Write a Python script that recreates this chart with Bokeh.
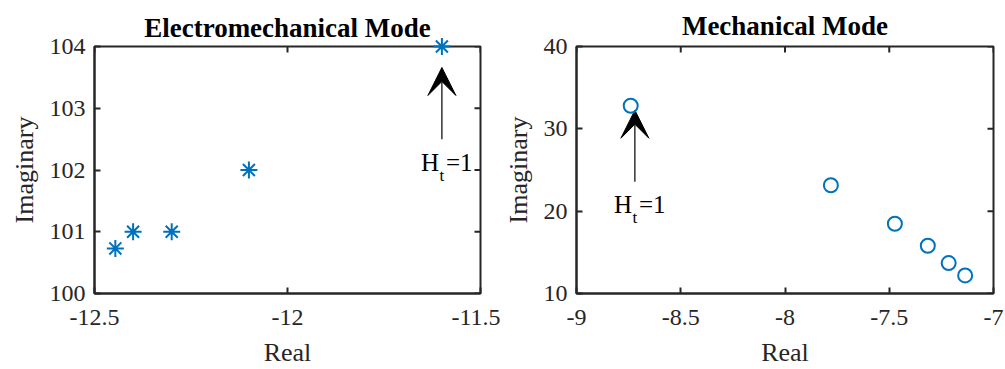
import math
from bokeh.plotting import figure
from bokeh.layouts import row
from bokeh.models import FixedTicker, Arrow, VeeHead, Label, Range1d
from bokeh.embed import file_html
from bokeh.resources import INLINE

# Electromechanical mode eigenvalues
em_real = [-12.446, -12.40, -12.30, -12.10, -11.60]
em_imag = [100.73, 101.0, 101.0, 102.0, 104.0]

# Mechanical mode eigenvalues
mech_real = [-8.74, -7.78, -7.473, -7.315, -7.215, -7.136]
mech_imag = [32.8, 23.15, 18.47, 15.8, 13.7, 12.2]

em_xticks = [-12.5, -12, -11.5]
em_yticks = [100, 101, 102, 103, 104]
mech_xticks = [-9, -8.5, -8, -7.5, -7]
mech_yticks = [10, 20, 30, 40]

# annotation arrows: (x, y_tail, y_head)
em_arrow = (-11.6, 102.5, 103.66)
mech_arrow = (-8.72, 23.58, 32.26)

BLUE = "#0072BD"
AX = "#262626"
FONT = "Liberation Serif"


def style_axis(ax, ticks):
    ax.ticker = FixedTicker(ticks=ticks)
    ax.axis_line_color = AX
    ax.axis_line_width = 2
    ax.major_tick_line_color = AX
    ax.major_tick_line_width = 2
    ax.major_tick_in = 6
    ax.major_tick_out = 0
    ax.minor_tick_line_color = None
    ax.major_label_text_font = FONT
    ax.major_label_text_color = AX
    ax.major_label_text_font_size = "24px"
    ax.major_label_overrides = {t: "%g" % t for t in ticks}
    ax.axis_label_text_font = FONT
    ax.axis_label_text_font_size = "26px"
    ax.axis_label_text_font_style = "normal"
    ax.axis_label_text_color = AX


def make_fig(title, width, xr, yr, xticks, yticks, borders, title_gap):
    left, right, top, bottom = borders
    p = figure(width=width, height=369, output_backend="svg", toolbar_location=None,
               x_range=Range1d(*xr), y_range=Range1d(*yr),
               min_border_left=left, min_border_right=right,
               min_border_top=top, min_border_bottom=bottom)
    p.title.text = title
    p.title.align = "center"
    p.title.text_font = FONT
    p.title.text_font_size = "27px"
    p.title.text_font_style = "bold"
    p.title.text_color = "black"
    p.title.standoff = title_gap
    p.grid.visible = False
    p.outline_line_color = AX
    p.outline_line_width = 2
    p.background_fill_color = "white"
    p.border_fill_color = "white"

    style_axis(p.xaxis[0], xticks)
    style_axis(p.yaxis[0], yticks)
    p.xaxis.axis_label = "Real"
    p.yaxis.axis_label = "Imaginary"
    p.xaxis.major_label_standoff = 16
    p.xaxis.axis_label_standoff = 10
    p.yaxis.major_label_standoff = 9
    p.yaxis.axis_label_standoff = 8

    # inward ticks on the top and right edges (half of each dash is clipped by the frame)
    p.scatter(xticks, [yr[1]] * len(xticks), marker="dash", angle=math.pi / 2,
              size=12, line_color=AX, line_width=2)
    p.scatter([xr[1]] * len(yticks), yticks, marker="dash",
              size=12, line_color=AX, line_width=2)
    return p


def add_note(p, ax, y_tail, y_head):
    p.add_layout(Arrow(x_start=ax, y_start=y_tail, x_end=ax, y_end=y_head,
                       line_color="black", line_width=1.2,
                       end=VeeHead(size=28, fill_color="black", line_color="black")))
    common = dict(text_font=FONT, text_color="black", text_baseline="alphabetic")
    p.add_layout(Label(x=ax, y=y_tail, x_offset=-21, y_offset=-23, text="H",
                       text_font_size="25px", text_align="left", **common))
    p.add_layout(Label(x=ax, y=y_tail, x_offset=0, y_offset=-36, text="t",
                       text_font_size="17px", text_align="center", **common))
    p.add_layout(Label(x=ax, y=y_tail, x_offset=4, y_offset=-23, text="=1",
                       text_font_size="25px", text_align="left", **common))


p1 = make_fig("Electromechanical Mode", 500, (-12.5, -11.5), (100, 104),
              em_xticks, em_yticks, (94, 20, 42, 75), 8)
r1 = p1.scatter(em_real, em_imag, marker="asterisk", size=17, line_color=BLUE, line_width=2)
r1.level = "overlay"
add_note(p1, *em_arrow)

p2 = make_fig("Mechanical Mode", 505, (-9, -7), (10, 40),
              mech_xticks, mech_yticks, (75, 12, 46, 75), 12)
r2 = p2.scatter(mech_real, mech_imag, marker="circle", size=14, line_color=BLUE,
                fill_color=None, line_width=2)
r2.level = "overlay"
add_note(p2, *mech_arrow)

layout = row(p1, p2)
open("out.html", "w").write(file_html(layout, INLINE))
